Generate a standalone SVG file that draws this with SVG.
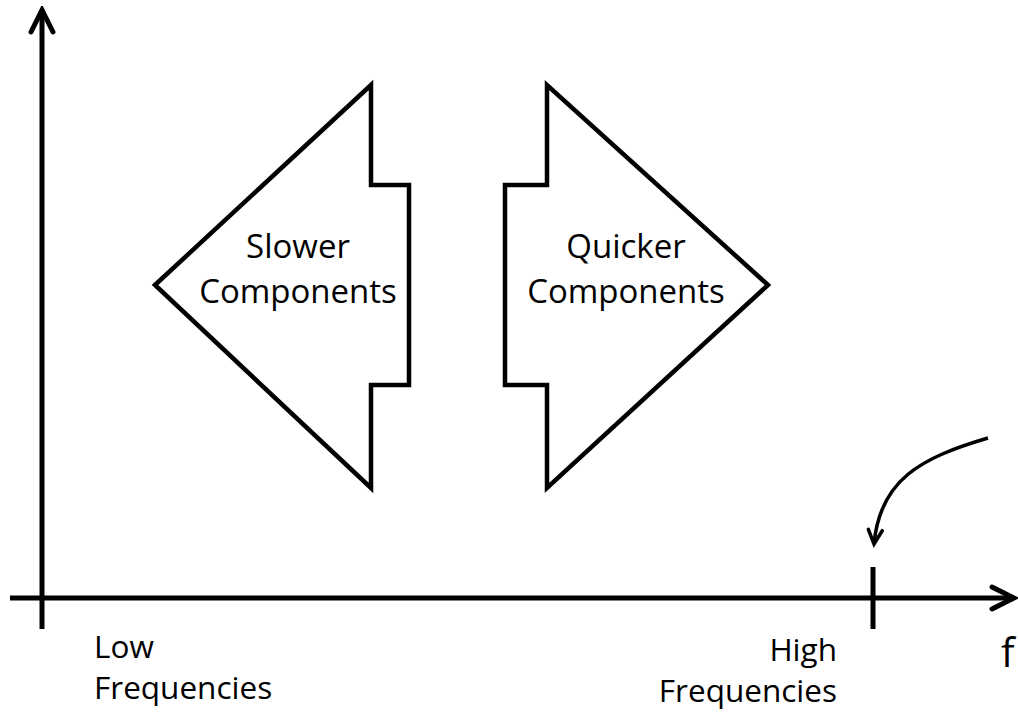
<svg xmlns="http://www.w3.org/2000/svg" width="1018" height="715" viewBox="0 0 1018 715">
  <style>
    .axis { fill: none; stroke: #000; stroke-width: 5; }
    .shape { fill: #fff; stroke: #000; stroke-width: 4.5; stroke-linejoin: miter; }
    .lbl { font-family: "Open Sans", "Liberation Sans", sans-serif; font-size: 31.5px; fill: #000; }
    .big { font-size: 33px; }
    .mid { text-anchor: middle; }
    .end { text-anchor: end; }
  </style>
  <defs>
    <marker id="axisHead" markerUnits="userSpaceOnUse" markerWidth="30" markerHeight="30" viewBox="-26 -15 30 30" refX="0" refY="0" orient="auto">
      <path d="M-22,-11 L0,0 L-22,11" fill="none" stroke="#000" stroke-width="5" stroke-linecap="round" stroke-linejoin="miter"/>
    </marker>
    <marker id="curveHead" markerUnits="userSpaceOnUse" markerWidth="24" markerHeight="24" viewBox="-18 -12 22 24" refX="0" refY="0" orient="auto">
      <path d="M-14,-7 L0,0 L-14,7" fill="none" stroke="#000" stroke-width="3.5" stroke-linecap="round"/>
    </marker>
  </defs>

  <!-- axes and pointer -->
  <g id="connectors">
    <line class="axis" x1="42" y1="629" x2="42" y2="10" marker-end="url(#axisHead)"/>
    <line class="axis" x1="10" y1="598" x2="1014" y2="598" marker-end="url(#axisHead)"/>
    <line class="axis" x1="873" y1="567" x2="873" y2="629"/>
    <path d="M988,438 C920,458 880,480 874,544" fill="none" stroke="#000" stroke-width="3.5" marker-end="url(#curveHead)"/>
  </g>

  <!-- left-pointing block arrow -->
  <g id="slower">
    <polygon class="shape" points="155,285 371,85 371,185 409,185 409,385 371,385 371,488"/>
    <text class="lbl big mid" x="298" y="258">Slower</text>
    <text class="lbl big mid" x="298" y="303">Components</text>
  </g>

  <!-- right-pointing block arrow -->
  <g id="quicker">
    <polygon class="shape" points="768,285 547,85 547,185 505,185 505,385 547,385 547,488"/>
    <text class="lbl big mid" x="626" y="258">Quicker</text>
    <text class="lbl big mid" x="626" y="303">Components</text>
  </g>

  <g id="low">
    <text class="lbl" x="94" y="658">Low</text>
    <text class="lbl" x="94" y="699">Frequencies</text>
  </g>

  <g id="high">
    <text class="lbl end" x="837" y="661">High</text>
    <text class="lbl end" x="837" y="702">Frequencies</text>
  </g>

  <g id="f-label">
    <text class="lbl" x="1001" y="667" style="font-size:40px">f</text>
  </g>
</svg>
